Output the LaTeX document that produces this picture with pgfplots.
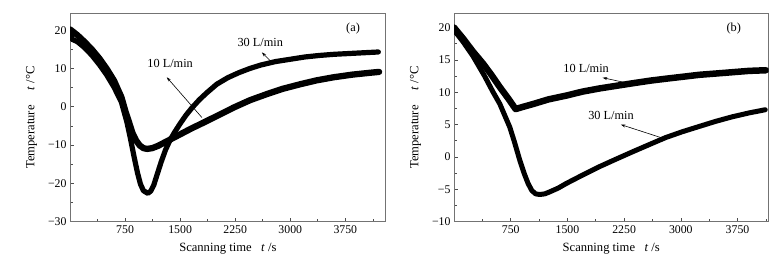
\documentclass[border=0pt]{standalone}
\usepackage{fontspec}
\setmainfont{Liberation Serif}
\usepackage{pgfplots}
\pgfplotsset{compat=1.18}
\usetikzlibrary{arrows.meta}
\tikzset{
  ann/.style={font=\fontsize{12.3}{14}\selectfont},
  arr/.style={-{Stealth[length=4.5pt,width=3pt]}, line width=0.6pt, black},
}
\begin{document}
\begin{tikzpicture}
\useasboundingbox (0,0) rectangle (781pt,261pt);
\pgfplotsset{
  myax/.style={
    scale only axis, height=208.4pt,
    axis line style={black!55, line width=0.7pt},
    tick align=inside, xtick pos=bottom, ytick pos=left,
    major tick length=4pt, minor tick length=2.5pt,
    every tick/.style={black!70, line width=0.6pt},
    xtick={750,1500,2250,3000,3750},
    xticklabels={750,1500,2250,3000,3750},
    minor xtick={375,1125,1875,2625,3375,4125},
    tick label style={font=\fontsize{11.8}{13}\selectfont},
    /pgf/number format/assume math mode=true,
    label style={font=\fontsize{12.6}{14}\selectfont},
    xlabel={Scanning time\hspace{0.75em}\textit{t} /s},
    ylabel={Temperature\hspace{1.2em}\textit{t} /°C},
    xlabel style={at={(axis description cs:0.5,-0.128)},anchor=center},
    ylabel style={at={(axis description cs:-0.122,0.5)},anchor=center},
    every axis plot/.append style={black, line join=round, line cap=round, no markers},
  },
}
% ---------------- (a) ----------------
\begin{axis}[myax, at={(70pt,39.3pt)}, anchor=south west, width=315.7pt,
  xmin=0, xmax=4300, ymin=-30, ymax=24.4,
  ytick={-30,-20,-10,0,10,20}, yticklabels={−30,−20,−10,0,10,20},
  minor ytick={-25,-15,-5,5,15}]
\addplot[line width=6.3pt] coordinates {
(0,20.2) (100,18.7) (200,16.9) (300,14.9) (400,12.6) (500,9.9) (600,6.8)
(700,2.5) (760,-1.5) (800,-3.8) (850,-6.8) (900,-8.8) (950,-10.1) (1000,-10.8)
(1050,-11.0) (1120,-10.8) (1200,-10.2) (1300,-9.2) (1430,-7.9) (1550,-6.7)
(1660,-5.6) (1780,-4.5) (1980,-2.6) (2230,-0.2) (2450,1.7) (2680,3.3)
(2900,4.7) (3140,5.9) (3360,6.9) (3590,7.7) (3850,8.4) (4100,8.9) (4210,9.1)};
\addplot[line width=5.2pt] coordinates {
(0,19.4) (30,17.6) (100,17.0) (200,15.4) (300,13.4) (400,11.0) (500,8.3)
(600,5.1) (700,1.2) (775,-4.0) (820,-8.0) (870,-12.8) (920,-17.3) (960,-20.2)
(1000,-21.9) (1060,-22.6) (1100,-22.0) (1140,-20.5) (1190,-17.5) (1240,-14.5)
(1300,-11.3) (1360,-8.8) (1420,-6.8) (1500,-4.4) (1580,-2.2) (1660,-0.3)
(1760,1.8) (1860,3.6) (2000,5.9) (2150,7.6) (2300,8.9) (2450,10.0) (2600,10.9)
(2800,11.8) (3000,12.4) (3200,13.0) (3400,13.4) (3600,13.7) (3900,14.0) (4200,14.3)};
\node[ann] at (axis cs:3855,20.5) {(a)};
\node[ann] at (axis cs:2591,16.8) {30 L/min};
\draw[arr] (axis cs:2727,12.0) -- (axis cs:2614,14.2);
\node[ann] at (axis cs:1364,11.3) {10 L/min};
\draw[arr] (axis cs:1796,-2.8) -- (axis cs:1318,7.7);
\end{axis}
% ---------------- (b) ----------------
\begin{axis}[myax, at={(454pt,39.3pt)}, anchor=south west, width=314.5pt,
  xmin=0, xmax=4160, ymin=-10, ymax=22.2,
  ytick={-10,-5,0,5,10,15,20}, yticklabels={−10,−5,0,5,10,15,20},
  minor ytick={-7.5,-2.5,2.5,7.5,12.5,17.5}]
\addplot[line width=6.5pt] coordinates {
(0,20.0) (120,18.3) (250,16.3) (386,14.4) (500,12.6) (606,10.8) (720,9.0)
(815,7.4) (900,7.7) (1052,8.2) (1250,8.9) (1491,9.5) (1700,10.1) (1930,10.6)
(2150,11.0) (2370,11.4) (2600,11.8) (2809,12.1) (3030,12.4) (3248,12.7)
(3470,12.9) (3687,13.1) (3900,13.3) (4126,13.4)};
\addplot[line width=5pt] coordinates {
(0,19.6) (120,17.8) (250,15.6) (400,12.6) (518,10.0) (606,8.2) (650,7.0)
(738,4.6) (800,2.3) (870,-0.5) (930,-2.6) (980,-4.1) (1030,-5.2) (1080,-5.7)
(1133,-5.8) (1200,-5.7) (1265,-5.4) (1380,-4.8) (1484,-4.1) (1700,-2.8)
(1923,-1.5) (2150,-0.3) (2362,0.8) (2580,1.9) (2800,3.0) (3020,3.9) (3239,4.7)
(3460,5.5) (3678,6.2) (3900,6.8) (4117,7.3)};
\node[ann] at (axis cs:3700,19.8) {(b)};
\node[ann] at (axis cs:1748,13.6) {10 L/min};
\draw[arr] (axis cs:2340,11.3) -- (axis cs:1966,12.25);
\node[ann] at (axis cs:2077,6.4) {30 L/min};
\draw[arr] (axis cs:2735,3.0) -- (axis cs:2208,5.0);
\end{axis}
\end{tikzpicture}
\end{document}
